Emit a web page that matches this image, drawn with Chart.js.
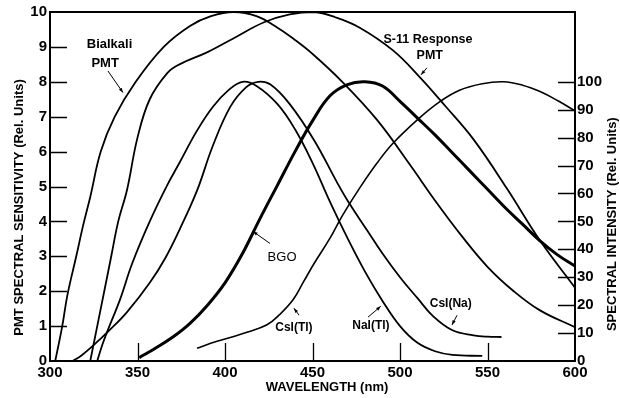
<!DOCTYPE html>
<html>
<head>
<meta charset="utf-8">
<script src="https://cdn.jsdelivr.net/npm/chart.js@4"></script>
<style>
  html, body { margin: 0; padding: 0; background: #fff; }
  canvas { display: block; }
</style>
</head>
<body>
<canvas id="chart" width="620" height="398"></canvas>
<script>
// ===== data (wavelength in nm) =====
// PMT curves -> left axis (0-10)
const bialkaliNm  = [303, 307, 310, 315, 319, 323, 329, 337, 349, 365, 380, 392, 405, 418, 430, 440, 450, 467, 487, 506, 520, 535, 550, 565, 580, 600];
const bialkaliVal = [0, 1.0, 1.9, 3.0, 3.9, 4.7, 6.0, 7.0, 8.0, 9.0, 9.6, 9.88, 10, 9.88, 9.55, 9.2, 8.8, 8.0, 6.9, 5.6, 4.6, 3.6, 2.7, 2.0, 1.45, 0.97];
const s11Nm  = [323, 327, 331, 335, 339, 344, 350, 357, 367, 374, 390, 405, 422, 437, 451, 463, 477, 496, 511, 526, 542, 561, 580, 600];
const s11Val = [0, 1, 2, 3, 4, 4.9, 6.4, 7.5, 8.25, 8.5, 8.85, 9.25, 9.7, 9.93, 10, 9.85, 9.55, 8.9, 8.15, 7.3, 6.35, 4.95, 3.45, 2.1];
// scintillator emission -> right axis (0-100)
const naiNm  = [327, 330, 333, 340, 347, 357, 367, 374, 384, 393, 402, 410, 418, 430, 440, 450, 460, 470, 480, 490, 500, 510, 520, 530, 547];
const naiVal = [0, 6, 11, 22, 35, 50, 63, 71, 82.5, 91, 97, 100, 98.5, 92, 83, 71, 57, 44, 32, 21.5, 12.5, 6.5, 3.5, 2.2, 1.8];
const csinaNm  = [313, 318, 323, 328, 333, 344, 357, 366, 374, 384, 393, 403, 412, 419, 426, 437, 451, 464, 470, 481, 490, 500, 510, 519, 530, 542, 550, 558];
const csinaVal = [0, 2, 4.6, 7.5, 10.4, 17.5, 28, 37, 47, 61, 77, 91, 98, 100, 99, 92, 79, 64, 57.5, 47, 38.5, 30, 22.5, 16, 11, 9.2, 8.7, 8.6];
const bgoNm  = [351, 360, 370, 380, 390, 400, 410, 420, 430, 440, 450, 460, 470, 480, 490, 500, 510, 520, 530, 540, 550, 560, 570, 580, 590, 600];
const bgoVal = [1.2, 4.5, 8.5, 13.5, 20, 28, 38.5, 51, 63, 75, 86, 95, 99, 100, 98.5, 93, 87, 81, 74.5, 68, 61.5, 55, 49, 43, 38, 34];
const csitlNm  = [384, 395, 405, 413, 424, 431, 439, 445, 451, 460, 467, 477, 487, 496, 511, 523, 534, 547, 559, 570, 580, 590, 600];
const csitlVal = [4.6, 7, 8.8, 10.4, 13, 16.5, 22, 28.5, 35, 44, 52, 62, 71, 78, 87, 93, 97, 99.3, 100, 98.8, 96.5, 93.3, 89.6];

// tick labels
const xTicks = [300, 350, 400, 450, 500, 550, 600];
const leftTicks = [0, 1, 2, 3, 4, 5, 6, 7, 8, 9, 10];
const rightTicks = [0, 10, 20, 30, 40, 50, 60, 70, 80, 90, 100];

const FONT = '"Liberation Sans", Arial, sans-serif';

function pts(xs, ys) { return xs.map((x, i) => ({x: x, y: ys[i]})); }
function line(data, axis, width) {
    return { data: data, yAxisID: axis, borderColor: '#000', borderWidth: width,
             pointRadius: 0, tension: 0.4, fill: false };
}

// annotation texts, positioned in data units
const notes = [
    {t: 'Bialkali', x: 334, y: 9.06, ax: 'y', f: 'bold 13px'},
    {t: 'PMT', x: 331.5, y: 8.54, ax: 'y', f: 'bold 13px'},
    {t: 'S-11 Response', x: 516, y: 9.2, ax: 'y', f: 'bold 12.5px'},
    {t: 'PMT', x: 517, y: 8.74, ax: 'y', f: 'bold 12.5px'},
    {t: 'BGO', x: 432.6, y: 37.1, ax: 'y2', f: '13px'},
    {t: 'CsI(Tl)', x: 439.4, y: 12.1, ax: 'y2', f: 'bold 12px'},
    {t: 'NaI(Tl)', x: 483.4, y: 12.5, ax: 'y2', f: 'bold 12px'},
    {t: 'CsI(Na)', x: 529, y: 20.7, ax: 'y2', f: 'bold 12px'}
];
const arrows = [
    {ax: 'y', from: [333.1, 8.31], to: [341.7, 7.69]},
    {ax: 'y', from: [515.4, 8.4], to: [512, 8.2]},
    {ax: 'y2', from: [425.7, 42.1], to: [416, 46.4]},
    {ax: 'y2', from: [442.3, 16.4], to: [439.4, 18.9]},
    {ax: 'y2', from: [481.7, 15.7], to: [489, 19.6]},
    {ax: 'y2', from: [532.6, 16.4], to: [529.7, 12.9]}
];

const decor = {
    id: 'decor',
    afterDraw(chart) {
        const {ctx, chartArea: a, scales} = chart;
        const x = scales.x, y = scales.y, y2 = scales.y2;
        ctx.save();
        ctx.strokeStyle = '#000';
        ctx.fillStyle = '#000';
        // frame
        ctx.lineWidth = 2;
        ctx.strokeRect(a.left, a.top, a.right - a.left, a.bottom - a.top);
        // inner tick marks
        ctx.lineWidth = 1.3;
        ctx.beginPath();
        xTicks.slice(1, -1).forEach(v => {
            const px = Math.round(x.getPixelForValue(v)) + 0.5;
            ctx.moveTo(px, a.bottom); ctx.lineTo(px, a.bottom - 18);
        });
        leftTicks.slice(1, -1).forEach(v => {
            const py = Math.round(y.getPixelForValue(v)) + 0.5;
            ctx.moveTo(a.left, py); ctx.lineTo(a.left + 17, py);
        });
        rightTicks.slice(1).forEach(v => {
            const py = Math.round(y2.getPixelForValue(v)) + 0.5;
            ctx.moveTo(a.right, py); ctx.lineTo(a.right - 17, py);
        });
        ctx.stroke();

        // annotations
        ctx.textAlign = 'center';
        ctx.textBaseline = 'middle';
        notes.forEach(n => {
            ctx.font = n.f + ' ' + FONT;
            ctx.fillText(n.t, x.getPixelForValue(n.x), scales[n.ax].getPixelForValue(n.y));
        });
        ctx.lineWidth = 1;
        arrows.forEach(r => {
            const s = scales[r.ax];
            const x1 = x.getPixelForValue(r.from[0]), y1 = s.getPixelForValue(r.from[1]);
            const x2 = x.getPixelForValue(r.to[0]), y2p = s.getPixelForValue(r.to[1]);
            const ang = Math.atan2(y2p - y1, x2 - x1);
            ctx.beginPath(); ctx.moveTo(x1, y1); ctx.lineTo(x2, y2p); ctx.stroke();
            ctx.beginPath();
            ctx.moveTo(x2, y2p);
            ctx.lineTo(x2 - 5 * Math.cos(ang - 0.35), y2p - 5 * Math.sin(ang - 0.35));
            ctx.lineTo(x2 - 5 * Math.cos(ang + 0.35), y2p - 5 * Math.sin(ang + 0.35));
            ctx.closePath(); ctx.fill();
        });

        // axis titles
        ctx.font = 'bold 13px ' + FONT;
        ctx.fillText('WAVELENGTH (nm)', a.left + 277, a.bottom + 26);
        ctx.save();
        ctx.translate(a.left - 31, y.getPixelForValue(4.4));
        ctx.rotate(-Math.PI / 2);
        ctx.fillText('PMT SPECTRAL SENSITIVITY (Rel. Units)', 0, 0);
        ctx.restore();
        ctx.save();
        ctx.translate(a.right + 37, y2.getPixelForValue(49));
        ctx.rotate(-Math.PI / 2);
        ctx.fillText('SPECTRAL INTENSITY (Rel. Units)', 0, 0);
        ctx.restore();
        ctx.restore();
    }
};

const tickFont = {family: FONT, size: 15, weight: 'bold'};

new Chart(document.getElementById('chart').getContext('2d'), {
    type: 'line',
    data: { datasets: [
        line(pts(bialkaliNm, bialkaliVal), 'y', 1.8),
        line(pts(s11Nm, s11Val), 'y', 1.8),
        line(pts(naiNm, naiVal), 'y2', 1.8),
        line(pts(csinaNm, csinaVal), 'y2', 1.8),
        line(pts(bgoNm, bgoVal), 'y2', 3),
        line(pts(csitlNm, csitlVal), 'y2', 1.6)
    ]},
    options: {
        responsive: false, animation: false,
        layout: { padding: {top: 11, left: 0, right: 0, bottom: 0} },
        plugins: { legend: {display: false}, tooltip: {enabled: false} },
        scales: {
            x: { type: 'linear', min: 300, max: 600, position: 'bottom',
                 grid: {display: false, drawTicks: false}, border: {display: false},
                 ticks: {font: tickFont, color: '#000', padding: 3, maxRotation: 0},
                 afterBuildTicks: s => { s.ticks = xTicks.map(v => ({value: v})); },
                 afterFit: s => { s.height = 37; } },
            y: { min: 0, max: 10, position: 'left',
                 grid: {display: false, drawTicks: false}, border: {display: false},
                 ticks: {font: tickFont, color: '#000', padding: 3},
                 afterBuildTicks: s => { s.ticks = leftTicks.map(v => ({value: v})); },
                 afterFit: s => { s.width = 50; } },
            y2: { min: 0, max: 125, position: 'right',
                  grid: {display: false, drawTicks: false}, border: {display: false},
                  ticks: {font: tickFont, color: '#000', padding: 2},
                  afterBuildTicks: s => { s.ticks = rightTicks.map(v => ({value: v})); },
                  afterFit: s => { s.width = 45; } }
        }
    },
    plugins: [decor]
});
</script>
</body>
</html>
